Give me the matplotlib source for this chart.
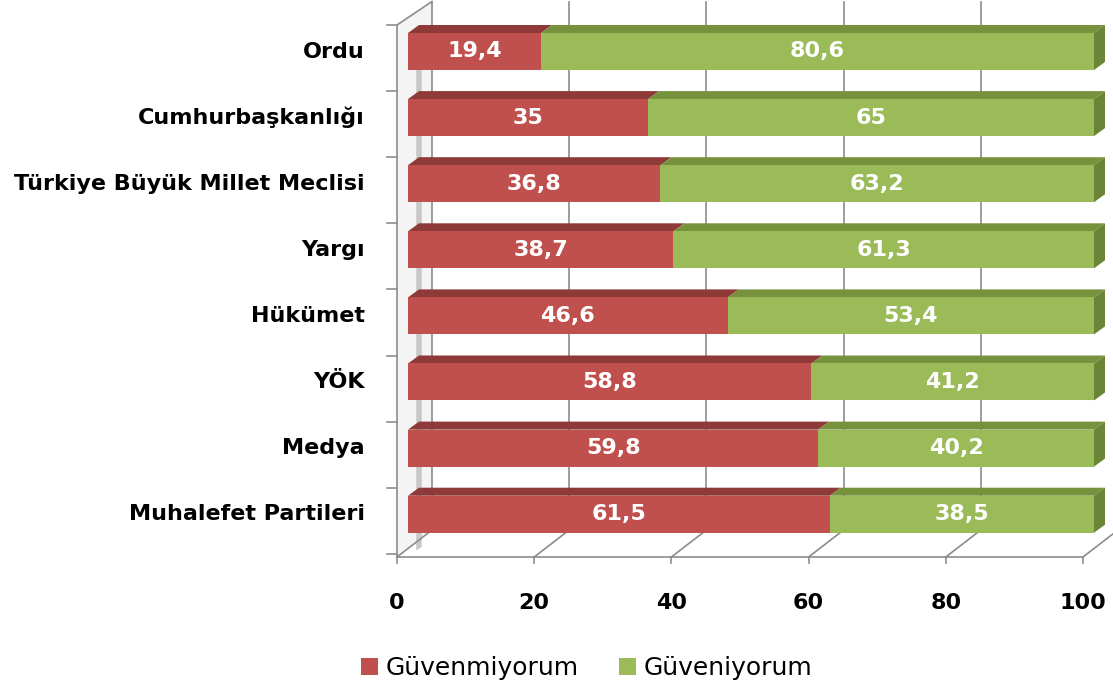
import numpy as np
import matplotlib.pyplot as plt
from matplotlib.patches import Polygon

plt.rcParams['font.family'] = ['DejaVu Sans']

categories = ['Ordu', 'Cumhurbaşkanlığı', 'Türkiye Büyük Millet Meclisi', 'Yargı',
              'Hükümet', 'YÖK', 'Medya', 'Muhalefet Partileri']
guvenmiyorum = [19.4, 35, 36.8, 38.7, 46.6, 58.8, 59.8, 61.5]
guveniyorum = [80.6, 65, 63.2, 61.3, 53.4, 41.2, 40.2, 38.5]
xticks = [0, 20, 40, 60, 80, 100]

red, red_top = '#C0504D', '#8E3A38'
green, green_top, green_side = '#9BBB59', '#76923C', '#6B8536'
grid_c = '#8C8C8C'

# pixel scale of the picture -> data units
px_x = 6.86   # px per value unit
px_y = 66.1   # px per category

fig = plt.figure(figsize=(11.13, 6.91), dpi=100)
ax = fig.add_axes([0, 0, 1, 1])
ax.set_xlim(-408 / px_x, (1113 - 408) / px_x)
ax.set_ylim((691 - 51.5) / px_y, -51.5 / px_y)
ax.axis('off')

y = np.arange(len(categories))
h = 37 / px_y
ddx, ddy = 11 / px_x, -8 / px_y          # bar depth
fdx_front, fdx_back = -11 / px_x, 24 / px_x   # floor front / back
floor_front, floor_back = (557 - 51.5) / px_y, (530 - 51.5) / px_y
wall_top_back = -50 / px_y
wall_top_front = (25 - 51.5) / px_y

# left wall
ax.add_patch(Polygon([(fdx_front, floor_front), (fdx_front, wall_top_front),
                      (fdx_back, wall_top_back), (fdx_back, floor_back)],
                     closed=True, facecolor='#F4F4F4', edgecolor='none', zorder=0))
ax.add_patch(Polygon([(1.2, floor_front - 0.1), (1.2, wall_top_front + 0.1),
                      (2.0, wall_top_front + 0.05), (2.0, floor_front - 0.15)],
                     closed=True, facecolor='#C8C8C8', edgecolor='none', zorder=0))
ax.plot([fdx_front, fdx_front, fdx_back], [floor_front, wall_top_front, wall_top_back],
        color=grid_c, lw=1.2, zorder=1)

# back wall gridlines and floor
for v in xticks:
    ax.plot([v + fdx_back, v + fdx_back], [floor_back, wall_top_back], color=grid_c, lw=1.2, zorder=1)
    ax.plot([v + fdx_front, v + fdx_back], [floor_front, floor_back], color=grid_c, lw=1.2, zorder=1)
    ax.plot([v + fdx_front, v + fdx_front], [floor_front, floor_front + 6 / px_y], color=grid_c, lw=1.2, zorder=1)
    ax.text(v + fdx_front, (603 - 51.5) / px_y, str(v), ha='center', va='center',
            fontsize=16, fontweight='bold', color='black')
ax.plot([fdx_front, 100 + fdx_front], [floor_front, floor_front], color=grid_c, lw=1.2, zorder=1)

# category ticks on the left wall
for i in range(len(categories) + 1):
    yt = i - 0.4
    ax.plot([fdx_front - 10 / px_x, fdx_front], [yt, yt], color=grid_c, lw=1.2, zorder=1)

# bars
b1 = ax.barh(y, guvenmiyorum, height=h, color=red, label='Güvenmiyorum', zorder=3)
b2 = ax.barh(y, guveniyorum, left=guvenmiyorum, height=h, color=green, label='Güveniyorum', zorder=3)

for i in range(len(categories)):
    a, b = guvenmiyorum[i], guveniyorum[i]
    top = y[i] - h / 2
    bot = y[i] + h / 2
    ax.add_patch(Polygon([(0, top), (a, top), (a + ddx, top + ddy), (ddx, top + ddy)],
                         closed=True, facecolor=red_top, edgecolor='none', zorder=2))
    ax.add_patch(Polygon([(a, top), (a + b, top), (a + b + ddx, top + ddy), (a + ddx, top + ddy)],
                         closed=True, facecolor=green_top, edgecolor='none', zorder=2))
    ax.add_patch(Polygon([(a + b, top), (a + b + ddx, top + ddy), (a + b + ddx, bot + ddy),
                          (a + b, bot)],
                         closed=True, facecolor=green_side, edgecolor='none', zorder=2))
    ax.text(a / 2, y[i], f'{a:g}'.replace('.', ','), ha='center', va='center',
            color='white', fontsize=16, fontweight='bold', zorder=4)
    ax.text(a + b / 2, y[i], f'{b:g}'.replace('.', ','), ha='center', va='center',
            color='white', fontsize=16, fontweight='bold', zorder=4)
    ax.text(-43 / px_x, y[i], categories[i], ha='right', va='center',
            fontsize=16, fontweight='bold', color='black')

ax.legend(handles=[b1, b2], loc='center', bbox_to_anchor=(0.527, 1 - 668 / 691),
          ncol=2, frameon=False, fontsize=18, handlelength=0.7, handleheight=0.7,
          handletextpad=0.3, columnspacing=1.6)

plt.savefig('out.png', dpi=100)
